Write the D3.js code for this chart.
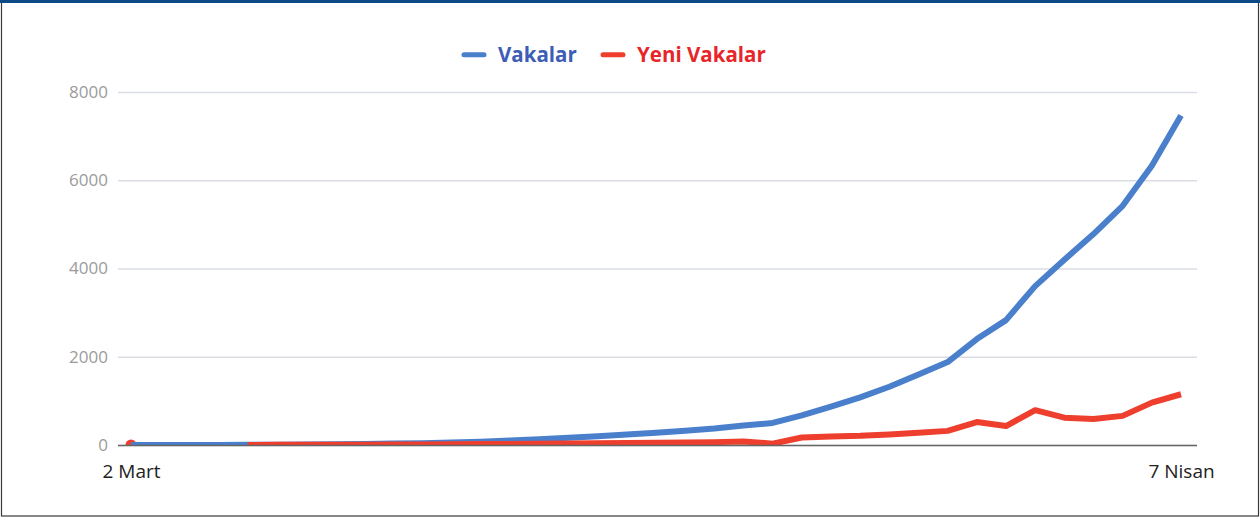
<!DOCTYPE html>
<html>
<head>
<meta charset="utf-8">
<script src="https://cdn.jsdelivr.net/npm/d3@7"></script>
<style>
  html, body { margin: 0; padding: 0; background: #fff; }
  svg { display: block; }
</style>
</head>
<body>
<svg id="chart" width="1260" height="518"></svg>
<script>
// ---- data ----
const days = [
  "2 Mart","3 Mart","4 Mart","5 Mart","6 Mart","7 Mart","8 Mart","9 Mart","10 Mart","11 Mart",
  "12 Mart","13 Mart","14 Mart","15 Mart","16 Mart","17 Mart","18 Mart","19 Mart","20 Mart","21 Mart",
  "22 Mart","23 Mart","24 Mart","25 Mart","26 Mart","27 Mart","28 Mart","29 Mart","30 Mart","31 Mart",
  "1 Nisan","2 Nisan","3 Nisan","4 Nisan","5 Nisan","6 Nisan","7 Nisan"
];
const vakalar = [
  1, 1, 1, 1, 3, 6, 10, 15, 22, 32,
  42, 58, 75, 100, 130, 165, 200, 240, 280, 325,
  375, 440, 500, 670, 870, 1080, 1320, 1600, 1880, 2400,
  2830, 3600, 4200, 4780, 5420, 6330, 7470
];
const yeniVakalar = [
  1, null, null, null, 2, 3, 4, 5, 7, 10,
  10, 16, 20, 25, 30, 35, 40, 45, 50, 55,
  65, 80, 30, 170, 195, 210, 240, 280, 320, 520,
  430, 790, 620, 590, 660, 960, 1150
];
const yTicks = [0, 2000, 4000, 6000, 8000];
const xTickLabels = ["2 Mart", "7 Nisan"];
const seriesNames = ["Vakalar", "Yeni Vakalar"];

// ---- layout ----
const svg = d3.select("#chart");
const W = 1260, H = 518;
const plot = { left: 118, right: 1197, top: 92, bottom: 445 };
const blue = "#4a7fcc", red = "#ee3f2e";
const blueText = "#3d5db7", redText = "#e8262a";

// frame
svg.append("rect").attr("x", 1.5).attr("y", 1).attr("width", W - 3).attr("height", H - 3)
  .attr("fill", "none").attr("stroke", "#3a3a3a").attr("stroke-width", 1.2);
svg.append("rect").attr("x", 0).attr("y", 0).attr("width", W).attr("height", 3).attr("fill", "#0b4a87");

const x = d3.scaleLinear().domain([0, days.length - 1]).range([131, 1181]);
const y = d3.scaleLinear().domain([0, 8000]).range([plot.bottom, plot.top]);

// gridlines + y labels
const yAxis = d3.axisLeft(y).tickValues(yTicks).tickSize(-(plot.right - plot.left)).tickPadding(10).tickFormat(d3.format("d"));
const gy = svg.append("g").attr("transform", `translate(${plot.left},0)`).call(yAxis);
gy.select(".domain").remove();
gy.selectAll(".tick line").attr("stroke", "#d9dde3").attr("stroke-width", 1.5);
gy.selectAll(".tick text").attr("fill", "#9b9b9b").attr("font-family", "'Open Sans', sans-serif").attr("font-size", 17);

// clip
svg.append("clipPath").attr("id", "clip").append("rect")
  .attr("x", plot.left).attr("y", plot.top - 20).attr("width", plot.right - plot.left).attr("height", plot.bottom - plot.top + 20);

const g = svg.append("g").attr("clip-path", "url(#clip)");

// isolated first point of Yeni Vakalar
yeniVakalar.forEach((v, i) => {
  const prev = i > 0 ? yeniVakalar[i - 1] : null;
  const next = i < yeniVakalar.length - 1 ? yeniVakalar[i + 1] : null;
  if (v != null && prev == null && next == null) {
    g.append("circle").attr("cx", x(i)).attr("cy", y(v)).attr("r", 5.5).attr("fill", red);
  }
});

const line = d3.line().defined(d => d != null).x((d, i) => x(i)).y(d => y(d));
g.append("path").datum(vakalar).attr("d", line).attr("fill", "none")
  .attr("stroke", blue).attr("stroke-width", 6).attr("stroke-linejoin", "round");
g.append("path").datum(yeniVakalar).attr("d", line).attr("fill", "none")
  .attr("stroke", red).attr("stroke-width", 6).attr("stroke-linejoin", "round");

// baseline
svg.append("line").attr("x1", plot.left).attr("x2", plot.right).attr("y1", y(0) + 0.5).attr("y2", y(0) + 0.5)
  .attr("stroke", "#666").attr("stroke-width", 1.6);

// x labels
const xAxis = d3.axisBottom(x).tickValues([0, days.length - 1]).tickSize(0).tickPadding(0)
  .tickFormat(i => xTickLabels.includes(days[i]) ? days[i] : "");
const gx = svg.append("g").attr("transform", `translate(0,${plot.bottom})`).call(xAxis);
gx.select(".domain").remove();
gx.selectAll(".tick text").attr("fill", "#222").attr("font-family", "'Open Sans', sans-serif")
  .attr("font-size", 19).attr("dy", null).attr("y", 33);

// legend
const legend = svg.append("g").attr("font-family", "'Open Sans', sans-serif").attr("font-weight", "bold").attr("font-size", 20.5);
const legItems = [
  { name: seriesNames[0], color: blue, text: blueText, x0: 464 },
  { name: seriesNames[1], color: red, text: redText, x0: 603 }
];
legItems.forEach(it => {
  legend.append("line").attr("x1", it.x0).attr("x2", it.x0 + 20).attr("y1", 54.7).attr("y2", 54.7)
    .attr("stroke", it.color).attr("stroke-width", 5).attr("stroke-linecap", "round");
  legend.append("text").attr("x", it.x0 + 34).attr("y", 61.5).attr("fill", it.text).text(it.name);
});
</script>
</body>
</html>
